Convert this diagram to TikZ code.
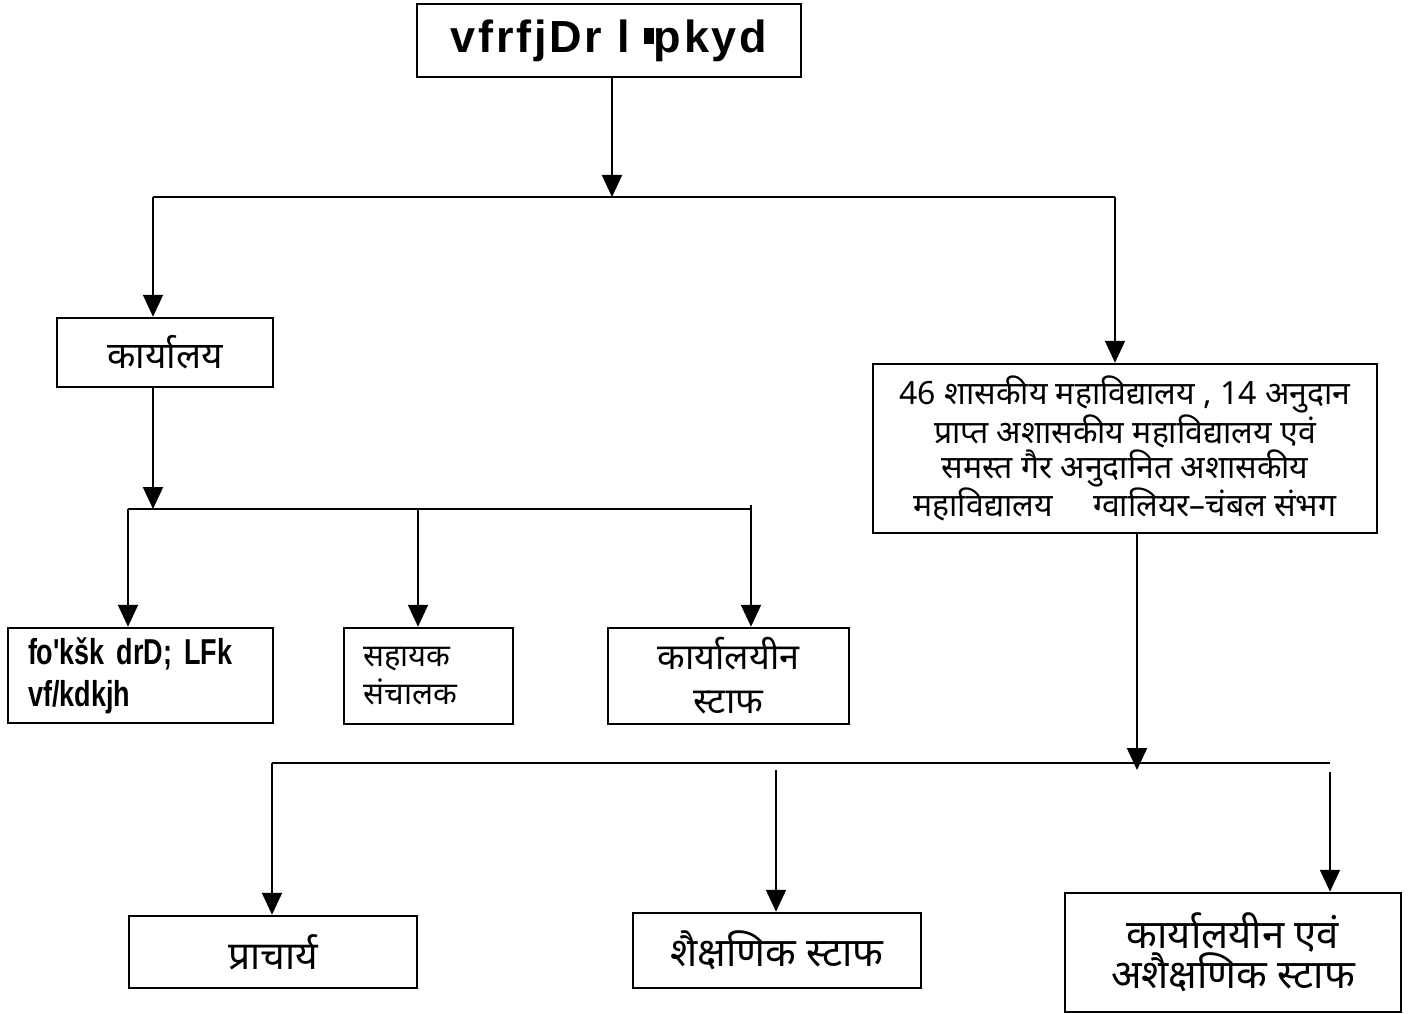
\documentclass[tikz,border=0pt]{standalone}
\usepackage{fontspec}
\usetikzlibrary{arrows.meta}
\newfontfamily\dev[Script=Devanagari]{Noto Sans}
\newfontfamily\kdA[LetterSpace=6]{Liberation Sans}
\newfontfamily\kdB[FakeStretch=0.75]{Liberation Sans}
\tikzset{
  box/.style={draw, line width=2.5pt, inner sep=0pt, align=center},
  ln/.style={line width=2pt},
  arr/.style={line width=2pt, -{Triangle[width=20pt,length=22pt]}}
}
\begin{document}
\begin{tikzpicture}[x=1pt,y=-1pt]
\useasboundingbox (0,0) rectangle (1422,1014);
% boxes
\node[box, minimum width=384pt, minimum height=73pt, font=\kdA\bfseries\fontsize{45}{48}\selectfont] (top) at (609,40.5)
  {vfrfjDr l\hspace{24pt}\llap{\raisebox{8pt}{\rule{10pt}{16pt}}}pkyd};
\node[box, minimum width=216pt, minimum height=69pt, font=\dev\fontsize{37}{40}\selectfont] (office) at (165,352.5)
  {कार्यालय};
\node[box, minimum width=504pt, minimum height=169pt, font=\dev\fontsize{32}{35}\selectfont] (big) at (1125,448.5)
  {46 शासकीय महाविद्यालय , 14 अनुदान\\
   प्राप्त अशासकीय महाविद्यालय एवं\\
   समस्त गैर अनुदानित अशासकीय\\
   महाविद्यालय \quad ग्वालियर–चंबल संभग};
\node[box, minimum width=265pt, minimum height=95pt, text width=225pt, align=left, font=\kdB\bfseries\fontsize{36}{42}\selectfont] (osd) at (140.5,675.5)
  {fo'k\v{s}k drD; LFk\\ vf/kdkjh};
\node[box, minimum width=169pt, minimum height=96pt, text width=130pt, align=left, font=\dev\fontsize{31}{38}\selectfont] (sah) at (428.5,676)
  {सहायक\\ संचालक};
\node[box, minimum width=241pt, minimum height=96pt, font=\dev\fontsize{36}{44}\selectfont] (staff) at (728.5,676)
  {कार्यालयीन\\ स्टाफ};
\node[box, minimum width=288pt, minimum height=72pt, font=\dev\fontsize{39}{42}\selectfont] (prin) at (273,952)
  {प्राचार्य};
\node[box, minimum width=288pt, minimum height=75pt, font=\dev\fontsize{40}{42}\selectfont] (teach) at (777,950.5)
  {शैक्षणिक स्टाफ};
\node[box, minimum width=336pt, minimum height=119pt, font=\dev\fontsize{40}{40}\selectfont] (nonteach) at (1233,952.5)
  {कार्यालयीन एवं\\ अशैक्षणिक स्टाफ};
% junction coordinates
\coordinate (j1) at (612,197);
\coordinate (l1) at (153,197);
\coordinate (r1) at (1115,197);
\coordinate (j2) at (153,509);
\coordinate (a2) at (128,509);
\coordinate (b2) at (418,509);
\coordinate (c2) at (751,509);
\coordinate (c2t) at (751,505);
\coordinate (j3) at (1137,770);
\coordinate (l3) at (272,763);
\coordinate (m3) at (776,770);
\coordinate (r3) at (1330,763);
\coordinate (r3b) at (1330,772);
% connectors
\draw[arr] (top.south -| j1) -- (j1);
\draw[ln] (l1) -- (r1);
\draw[arr] (l1) -- (l1 |- office.north);
\draw[arr] (r1) -- (r1 |- big.north);
\draw[arr] (office.south -| j2) -- (j2);
\draw[ln] (a2) -- (c2);
\draw[arr] (a2) -- (a2 |- osd.north);
\draw[arr] (b2) -- (b2 |- sah.north);
\draw[arr] (c2t) -- (c2 |- staff.north);
\draw[arr] (big.south -| j3) -- (j3);
\draw[ln] (l3) -- (r3);
\draw[arr] (l3) -- (l3 |- prin.north);
\draw[arr] (m3) -- (m3 |- teach.north);
\draw[arr] (r3b) -- (r3b |- nonteach.north);
\end{tikzpicture}
\end{document}
